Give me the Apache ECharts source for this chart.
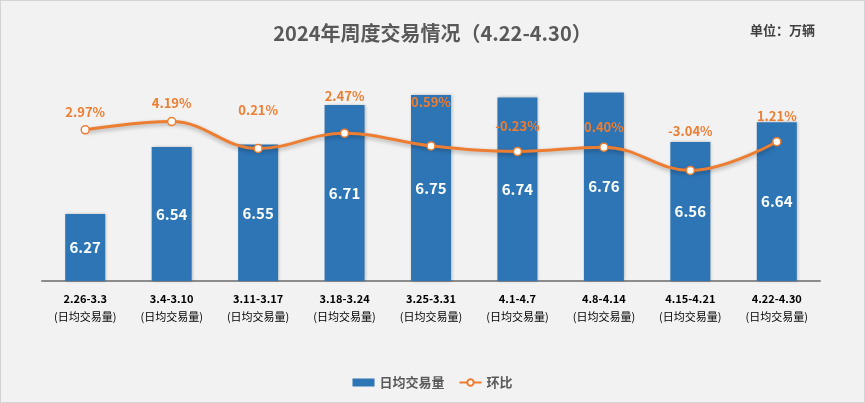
<!DOCTYPE html>
<html>
<head>
<meta charset="utf-8">
<script src="https://cdn.jsdelivr.net/npm/echarts@6/dist/echarts.min.js"></script>
<style>
html,body{margin:0;padding:0;background:#f2f2f2;}
#c{width:863px;height:401px;border:1px solid #d4d4d4;background:#f2f2f2;}
</style>
</head>
<body>
<div id="c"></div>
<script>
var weeks = ['2.26-3.3','3.4-3.10','3.11-3.17','3.18-3.24','3.25-3.31','4.1-4.7','4.8-4.14','4.15-4.21','4.22-4.30'];
var volume = [6.27, 6.54, 6.55, 6.71, 6.75, 6.74, 6.76, 6.56, 6.64];
var change = [2.97, 4.19, 0.21, 2.47, 0.59, -0.23, 0.40, -3.04, 1.21];
var labelGap = [7, 7, 27, 26, 33, 14, 9, 28, 14];

var font = '"Noto Sans CJK SC", "Open Sans", sans-serif';
var chart = echarts.init(document.getElementById('c'));
chart.setOption({
  backgroundColor: '#f2f2f2',
  textStyle: {fontFamily: font},
  title: [{
    text: '2024年周度交易情况（4.22-4.30）',
    left: 'center', top: 17,
    textStyle: {fontSize: 20, fontWeight: 'bold', color: '#595959', fontFamily: font}
  }, {
    text: '单位：万辆',
    right: 44, top: 18,
    textStyle: {fontSize: 13, fontWeight: 'bold', color: '#404040', fontFamily: font}
  }],
  legend: {
    bottom: 8, left: 'center',
    itemGap: 14,
    textStyle: {fontSize: 13, color: '#595959', fontWeight: 'bold', fontFamily: font},
    data: [
      {name: '日均交易量', icon: 'rect', itemStyle: {color: '#2e75b6'}},
      {name: '环比'}
    ],
    itemWidth: 22, itemHeight: 8
  },
  grid: {left: 41, right: 44, top: 32, bottom: 121},
  xAxis: {
    type: 'category',
    data: weeks,
    axisLine: {onZero: false, lineStyle: {color: '#8c8c8c', width: 2}},
    axisTick: {show: false},
    axisLabel: {
      interval: 0,
      margin: 9,
      lineHeight: 18,
      formatter: function (v) { return '{a|' + v + '}\n{b|(日均交易量)}'; },
      rich: {
        a: {fontSize: 11, fontWeight: 'bold', color: '#000', fontFamily: font, lineHeight: 18},
        b: {fontSize: 11, color: '#000', fontFamily: font, lineHeight: 18}
      }
    }
  },
  yAxis: [{
    type: 'value', min: 6, max: 7, show: false, splitLine: {show: false}
  }, {
    type: 'value', min: -19.4, max: 17.3, show: false, splitLine: {show: false}
  }],
  series: [{
    name: '日均交易量',
    type: 'bar',
    data: volume,
    barWidth: 40,
    itemStyle: {color: '#2e75b6', shadowColor: 'rgba(0,0,0,0.25)', shadowBlur: 3, shadowOffsetX: 1},
    label: {
      show: true, position: 'inside',
      color: '#fff', fontSize: 15, fontWeight: 'bold', fontFamily: font,
      formatter: function (p) { return p.value.toFixed(2); }
    },
    z: 2
  }, {
    name: '环比',
    type: 'line',
    yAxisIndex: 1,
    smooth: 0.4,
    data: change.map(function (v, i) {
      return {value: v, label: {distance: labelGap[i]}};
    }),
    symbol: 'circle',
    symbolSize: 8,
    lineStyle: {color: '#ed7d31', width: 3, shadowColor: 'rgba(0,0,0,0.3)', shadowBlur: 4, shadowOffsetY: 2},
    itemStyle: {color: '#fff', borderColor: '#ed7d31', borderWidth: 1.5},
    label: {
      show: true, position: 'top',
      color: '#ed7d31', fontSize: 13, fontWeight: 'bold', fontFamily: font,
      formatter: function (p) { return p.value.toFixed(2) + '%'; }
    },
    z: 3
  }]
});
</script>
</body>
</html>
